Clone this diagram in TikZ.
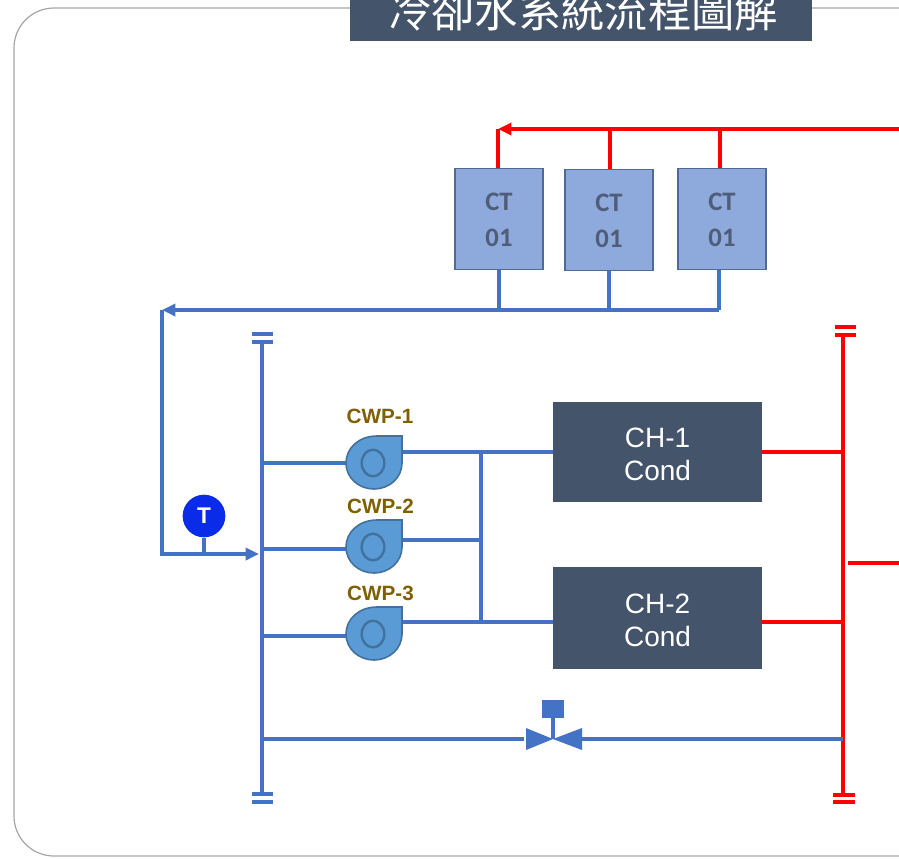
\documentclass[tikz,border=0pt]{standalone}
\usepackage{fontspec}
\setmainfont{Liberation Sans}
\newfontfamily\cjk{Noto Sans CJK TC}
\newfontfamily\calib{Carlito}
\usetikzlibrary{arrows.meta}
\definecolor{pipeblue}{HTML}{4472C4}
\definecolor{slate}{HTML}{44546A}
\definecolor{ctfill}{HTML}{8EA9DB}
\definecolor{ctedge}{HTML}{4F6A94}
\definecolor{cttext}{HTML}{4F5D78}
\definecolor{pumpfill}{HTML}{5B9BD5}
\definecolor{pumpedge}{HTML}{41719C}
\definecolor{pumptext}{HTML}{7F6000}
\definecolor{tblue}{HTML}{0A2BE8}
\tikzset{
 x=0.75pt,y=-0.75pt,
 blue pipe/.style={draw=pipeblue,line width=3.2pt},
 red pipe/.style={draw=red,line width=3.6pt},
 tipped/.style={-{Triangle[length=10pt,width=9pt]}},
 tower/.style={draw=ctedge,line width=1pt,fill=ctfill,text=cttext,minimum width=66pt,minimum height=75.5pt,inner sep=0pt,align=center,font=\calib\bfseries\fontsize{20pt}{27pt}\selectfont},
 chiller/.style={draw=none,fill=slate,text=white,minimum width=156.5pt,inner sep=0pt,align=center,font=\fontsize{21pt}{25pt}\selectfont},
 pumplabel/.style={text=pumptext,inner sep=0pt,font=\bfseries\fontsize{15.5pt}{17pt}\selectfont},
 pump/.pic={
  \path[draw=pumpedge,line width=1.2pt,fill=pumpfill]
    (28,-27) -- (28,0) .. controls (28,15) and (15,26) .. (0,26) .. controls (-15,26) and (-28,15) .. (-28,0) .. controls (-28,-15) and (-15,-27) .. (3,-27) -- cycle;
  \draw[pumpedge,line width=1.8pt] (-1,0) ellipse[x radius=8.5pt,y radius=10pt];
 },
}
\begin{document}
\begin{tikzpicture}
\useasboundingbox (0,0) rectangle (899,858);
\clip (0,0) rectangle (899,858);
\fill[white] (0,0) rectangle (899,858);
\draw[gray!70,line width=0.9pt,rounded corners=30pt] (960,8) -- (14,8) -- (14,856) -- (960,856);

% title
\node[fill=slate,minimum width=346.5pt,minimum height=60pt,inner sep=0pt] (title) at (581,1) {};
\node[text=white,inner sep=0pt,font=\cjk\fontsize{32.5pt}{36pt}\selectfont] (titletext) at (583,11) {冷卻水系統流程圖解};

% cooling towers
\node[tower] (ct1) at (499,219) {\rule{0pt}{15pt}CT\\01};
\node[tower] (ct2) at (609,220) {\rule{0pt}{15pt}CT\\01};
\node[tower] (ct3) at (722,219) {\rule{0pt}{15pt}CT\\01};

% chillers
\node[chiller,minimum height=75pt] (ch1) at (657.5,452) {\rule{0pt}{18pt}CH-1\\Cond};
\node[chiller,minimum height=76.5pt] (ch2) at (657.5,618) {\rule{0pt}{18pt}CH-2\\Cond};

% junction coordinates
\coordinate (redin) at (899,129);
\coordinate (redend) at (498,129);
\coordinate (red2) at (610,129);
\coordinate (red3) at (720,129);
\coordinate (bl1) at (499,310);
\coordinate (bl2) at (609,310);
\coordinate (bl3) at (719,310);
\coordinate (corner) at (162,310);
\coordinate (corner2) at (162,554);
\coordinate (hbtop) at (262,342);
\coordinate (hbbot) at (262,796);
\coordinate (rbtop) at (843,335);
\coordinate (rbbot) at (843,795);
\coordinate (hdrtop) at (481,452);
\coordinate (hdrbot) at (481,622);
\coordinate (hdrmid) at (481,540);
\coordinate (rout) at (899,563);
\coordinate (rstub) at (848,563);
\coordinate (valve) at (553,739);
\coordinate (byl) at (262,739);
\coordinate (byr) at (843,739);

% red pipes
\draw[red pipe,tipped] (redin) -- (redend);
\draw[red pipe] (redend |- ct1.north) -- (redend);
\draw[red pipe] (red2 |- ct2.north) -- (red2);
\draw[red pipe] (red3 |- ct3.north) -- (red3);
\draw[red pipe] (rbtop) -- (rbbot);
\draw[red pipe] (ch1.east |- hdrtop) -- (rbtop |- hdrtop);
\draw[red pipe] (ch2.east |- hdrbot) -- (rbtop |- hdrbot);
\draw[red pipe] (rstub) -- (rout);
\draw[red pipe,line width=3pt] (835,327) -- (856,327) (835,335) -- (856,335);
\draw[red pipe,line width=3pt] (833,795) -- (855,795) (833,802) -- (855,802);

% blue pipes
\draw[blue pipe] (bl1 |- ct1.south) -- (bl1);
\draw[blue pipe] (bl2 |- ct2.south) -- (bl2);
\draw[blue pipe] (bl3 |- ct3.south) -- (bl3);
\draw[blue pipe,tipped] (bl3) -- (corner);
\draw[blue pipe,tipped] (corner) -- (corner2) -- (259,554);
\draw[blue pipe] (hbtop) -- (hbbot);
\draw[blue pipe,line width=3pt] (252,334) -- (273,334) (252,342) -- (273,342);
\draw[blue pipe,line width=3pt] (252,794) -- (273,794) (252,802) -- (273,802);
\draw[blue pipe] (262,463) -- (350,463);
\draw[blue pipe] (262,549) -- (350,549);
\draw[blue pipe] (262,636) -- (350,636);
\draw[blue pipe] (402,452) -- (ch1.west |- hdrtop);
\draw[blue pipe] (402,622) -- (ch2.west |- hdrbot);
\draw[blue pipe] (402,540) -- (hdrmid);
\draw[blue pipe] (hdrtop) -- (hdrbot);
\draw[blue pipe] (byl) -- (524,739);
\draw[blue pipe] (582,739) -- (byr);

% pumps
\pic at (374,463) {pump};
\pic at (374,547) {pump};
\pic at (374,634) {pump};
\node[pumplabel] (cwp1) at (380,416) {CWP-1};
\node[pumplabel] (cwp2) at (380.5,506) {CWP-2};
\node[pumplabel] (cwp3) at (380.5,593) {CWP-3};

% temperature sensor
\node[circle,fill=tblue,text=white,minimum size=32pt,inner sep=0pt,font=\bfseries\fontsize{17pt}{20pt}\selectfont] (tsensor) at (204,516) {T};
\draw[blue pipe,line width=2.4pt] (tsensor.south) -- (tsensor.south |- corner2);

% bypass valve
\fill[pipeblue] (526,728) -- (553,739) -- (526,750) -- cycle;
\fill[pipeblue] (582,728) -- (553,739) -- (582,750) -- cycle;
\node[fill=pipeblue,minimum width=16pt,minimum height=13pt,inner sep=0pt] (act) at (553,709) {};
\draw[pipeblue,line width=3.2pt] (act.south) -- (valve);
\end{tikzpicture}
\end{document}
